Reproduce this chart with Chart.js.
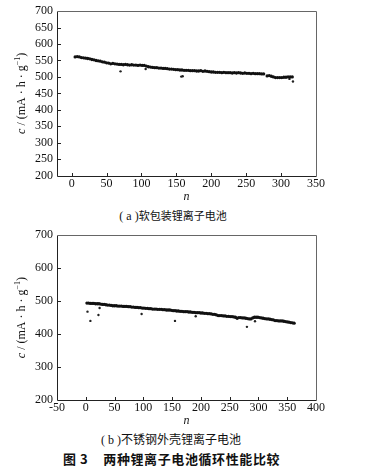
<!DOCTYPE html>
<html><head><meta charset="utf-8">
<script src="https://cdn.jsdelivr.net/npm/chart.js@4.4.0/dist/chart.umd.min.js"></script>
<style>
html,body{margin:0;padding:0;background:#fff;}
body{width:382px;height:471px;position:relative;overflow:hidden;}
canvas{position:absolute;left:0;}
.cap{position:absolute;left:0;text-align:center;font-family:"Liberation Serif","Noto Sans CJK SC",serif;color:#111;line-height:14px;white-space:nowrap;}
.cjk{font-family:"Noto Sans CJK SC",sans-serif;}
</style></head><body>
<canvas id="ca" width="382" height="205" style="top:0"></canvas>
<canvas id="cb" width="382" height="205" style="top:224px"></canvas>
<div class="cap" style="top:208px;width:346px;font-size:12px;">( a )<span class="cjk" style="font-size:11px">软包装锂离子电池</span></div>
<div class="cap" style="top:432px;width:342px;font-size:12px;">( b )<span class="cjk" style="font-size:12px">不锈钢外壳锂离子电池</span></div>
<div class="cap cjk" style="top:452px;width:343px;font-size:13px;font-weight:bold;letter-spacing:0.6px;">图 3<span style="margin-left:15px">两种锂离子电池循环性能比较</span></div>
<script>
// ---------- Data: (a) pouch cell ----------
const cyclesA = [5,8,11,14,17,20,23,26,29,32,35,38,41,44,47,50,53,56,59,62,65,68,71,74,77,80,83,86,89,92,95,98,101,104,107,110,113,116,119,122,125,128,131,134,137,140,143,146,149,152,155,158,161,164,167,170,173,176,179,182,185,188,191,194,197,200,203,206,209,212,215,218,221,224,227,230,233,236,239,242,245,248,251,254,257,260,263,266,269,272,275,280,283,286,289,292,295,298,301,304,307,310,313,316];
const capacityA = [561,562,561,559,558,557,556,555,553,552,550,549,548,546,545,543,542,540,541,540,539,538,538,537,538,537,536,537,536,536,535,536,535,535,533,531,530,529,528,528,527,527,526,526,525,524,524,523,522,522,521,521,520,520,520,519,519,519,518,518,519,517,518,517,516,515,515,514,514,514,513,514,513,513,513,512,513,512,513,512,511,512,511,511,510,511,510,510,510,509,509,503,504,502,500,498,498,498,498,499,499,500,500,500];
const outlierCyclesA = [70,106,157,159,312,317];
const outlierCapacityA = [517,524,501,502,494,486];
const xTicksA = [0,50,100,150,200,250,300,350];
const yTicksA = [200,250,300,350,400,450,500,550,600,650,700];

// ---------- Data: (b) stainless steel cell ----------
const cyclesB = [2,5,8,11,14,17,20,23,26,29,32,35,38,41,44,47,50,53,56,59,62,65,68,71,74,77,80,83,86,89,92,95,98,101,104,107,110,113,116,119,122,125,128,131,134,137,140,143,146,149,152,155,158,161,164,167,170,173,176,179,182,185,188,191,194,197,200,203,206,209,212,215,218,221,224,227,230,233,236,239,242,245,248,251,254,257,260,263,266,269,272,275,278,281,284,287,290,293,296,299,302,305,308,311,314,317,320,323,326,329,332,335,338,341,344,347,350,353,356,359,362];
const capacityB = [494,494,493,493,493,492,492,492,491,490,490,489,488,488,487,486,486,486,485,485,485,484,484,484,483,483,482,482,481,481,480,480,479,479,478,478,477,477,476,476,476,475,475,475,474,474,473,473,473,472,471,471,470,470,469,469,468,468,468,467,467,466,466,465,465,465,464,464,463,463,462,462,461,460,460,458,456,456,456,455,455,454,454,453,453,452,451,448,450,450,449,449,448,447,446,446,449,451,451,451,450,449,448,447,446,446,445,444,443,441,441,440,440,440,439,438,437,436,435,434,433];
const outlierCyclesB = [3,8,22,24,97,155,191,280,294];
const outlierCapacityB = [468,440,458,479,461,440,454,422,439];
const xTicksB = [-50,0,50,100,150,200,250,300,350,400];
const yTicksB = [200,300,400,500,600,700];

const toPts = (xs, ys) => xs.map((x, i) => ({x: x, y: ys[i]}));

const framePlugin = {
  id: 'frame',
  afterDraw(chart) {
    const {ctx, chartArea: a, scales: {x, y}} = chart;
    ctx.save();
    ctx.strokeStyle = '#222';
    ctx.lineWidth = 1;
    const L = Math.round(a.left) + 0.5, R = Math.round(a.right) + 0.5;
    const T = Math.round(a.top) + 0.5, B = Math.round(a.bottom) + 0.5;
    ctx.beginPath();
    ctx.moveTo(L, T); ctx.lineTo(L, B); ctx.lineTo(R, B);
    ctx.stroke();
    ctx.strokeStyle = '#666';
    ctx.beginPath();
    ctx.moveTo(L, T); ctx.lineTo(R, T); ctx.lineTo(R, B);
    ctx.stroke();
    ctx.strokeStyle = '#222';
    ctx.beginPath();
    x.ticks.forEach(t => {
      const px = Math.round(x.getPixelForValue(t.value)) + 0.5;
      if (px > L + 1 && px < R - 1) { ctx.moveTo(px, B); ctx.lineTo(px, B - 3.5); }
    });
    y.ticks.forEach(t => {
      const py = Math.round(y.getPixelForValue(t.value)) + 0.5;
      if (py > T + 1 && py < B - 1) { ctx.moveTo(L, py); ctx.lineTo(L + 3.5, py); }
    });
    ctx.stroke();
    // y-axis title: c/(mA·h·g^-1)
    const cy = (a.top + a.bottom) / 2;
    ctx.translate(22, cy);
    ctx.rotate(-Math.PI / 2);
    ctx.fillStyle = '#111';
    ctx.textBaseline = 'middle';
    const parts = [
      {t: 'c', f: 'italic 12px "Liberation Serif"', dy: 0},
      {t: ' / (mA · h · g', f: '12px "Liberation Serif"', dy: 0},
      {t: '−1', f: '8px "Liberation Serif"', dy: -4},
      {t: ')', f: '12px "Liberation Serif"', dy: 0}
    ];
    let total = 0;
    parts.forEach(p => { ctx.font = p.f; p.w = ctx.measureText(p.t).width; total += p.w; });
    let cx = -total / 2;
    parts.forEach(p => { ctx.font = p.f; ctx.fillText(p.t, cx, p.dy); cx += p.w; });
    ctx.restore();
  }
};

function makeChart(id, main, outl, xMin, xMax, xTicks, yTicks, xHeight) {
  const tickFont = {family: '"Liberation Serif"', size: 12};
  return new Chart(document.getElementById(id), {
    type: 'scatter',
    data: {
      datasets: [
        {data: main, backgroundColor: '#111', borderColor: '#111', pointRadius: 1.65, pointBorderWidth: 0, pointStyle: 'circle'},
        {data: outl, backgroundColor: '#222', borderColor: '#222', pointRadius: 1.2, pointBorderWidth: 0}
      ]
    },
    options: {
      responsive: false,
      animation: false,
      events: [],
      layout: {padding: {left: 0, right: 66, top: 7, bottom: 0}},
      plugins: {legend: {display: false}, tooltip: {enabled: false}},
      scales: {
        x: {
          type: 'linear', min: xMin, max: xMax,
          grid: {display: false, drawTicks: false},
          border: {display: false},
          afterBuildTicks: s => { s.ticks = xTicks.map(v => ({value: v})); },
          afterFit: s => { s.height = xHeight; },
          ticks: {font: tickFont, color: '#111', padding: 1, maxRotation: 0, autoSkip: false, callback: v => String(v)},
          title: {display: true, text: 'n', color: '#111', font: {family: '"Liberation Serif"', size: 12, style: 'italic'}, padding: {top: 0, bottom: 1}}
        },
        y: {
          type: 'linear', min: 200, max: 700,
          grid: {display: false, drawTicks: false},
          border: {display: false},
          afterBuildTicks: s => { s.ticks = yTicks.map(v => ({value: v})); },
          afterFit: s => { s.width = 57; },
          ticks: {font: tickFont, color: '#111', padding: 4, autoSkip: false, callback: v => String(v)}
        }
      }
    },
    plugins: [framePlugin]
  });
}

makeChart('ca', toPts(cyclesA, capacityA), toPts(outlierCyclesA, outlierCapacityA), -21, 350, xTicksA, yTicksA, 29.5);
makeChart('cb', toPts(cyclesB, capacityB), toPts(outlierCyclesB, outlierCapacityB), -50, 400, xTicksB, yTicksB, 29);
</script>
</body></html>
